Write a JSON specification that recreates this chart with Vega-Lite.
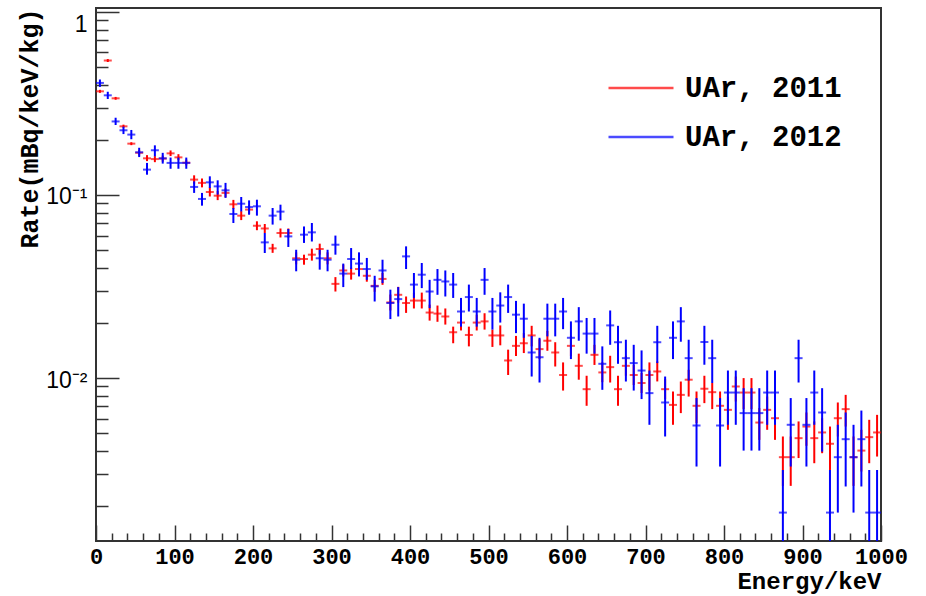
{
  "$schema": "https://vega.github.io/schema/vega-lite/v6.json",
  "width": 785,
  "height": 533,
  "autosize": "none",
  "padding": {"left": 96, "top": 8, "right": 45, "bottom": 55},
  "background": "white",
  "config": {
    "view": {"stroke": "#333333", "strokeWidth": 2},
    "axis": {"domain": false, "grid": false, "tickColor": "#333333", "tickWidth": 1.5, "labelColor": "black", "titleColor": "black", "labelFlush": false, "labelOverlap": false, "labelBound": false}
  },
  "data": {"values": [
    {"energy":5,"series":"UAr, 2011","rate":0.368,"lo":0.361,"hi":0.375},
    {"energy":15,"series":"UAr, 2011","rate":0.542,"lo":0.532,"hi":0.552},
    {"energy":25,"series":"UAr, 2011","rate":0.337,"lo":0.331,"hi":0.343},
    {"energy":35,"series":"UAr, 2011","rate":0.237,"lo":0.233,"hi":0.242},
    {"energy":45,"series":"UAr, 2011","rate":0.1906,"lo":0.187,"hi":0.194},
    {"energy":55,"series":"UAr, 2011","rate":0.170,"lo":0.164,"hi":0.176},
    {"energy":65,"series":"UAr, 2011","rate":0.1585,"lo":0.153,"hi":0.165},
    {"energy":75,"series":"UAr, 2011","rate":0.157,"lo":0.151,"hi":0.163},
    {"energy":85,"series":"UAr, 2011","rate":0.158,"lo":0.152,"hi":0.164},
    {"energy":95,"series":"UAr, 2011","rate":0.1687,"lo":0.163,"hi":0.175},
    {"energy":105,"series":"UAr, 2011","rate":0.1604,"lo":0.155,"hi":0.167},
    {"energy":115,"series":"UAr, 2011","rate":0.150,"lo":0.145,"hi":0.156},
    {"energy":125,"series":"UAr, 2011","rate":0.1213,"lo":0.115,"hi":0.128},
    {"energy":135,"series":"UAr, 2011","rate":0.1164,"lo":0.110,"hi":0.123},
    {"energy":145,"series":"UAr, 2011","rate":0.1038,"lo":0.0981,"hi":0.110},
    {"energy":155,"series":"UAr, 2011","rate":0.0991,"lo":0.0937,"hi":0.105},
    {"energy":165,"series":"UAr, 2011","rate":0.1026,"lo":0.097,"hi":0.1086},
    {"energy":175,"series":"UAr, 2011","rate":0.0889,"lo":0.084,"hi":0.094},
    {"energy":185,"series":"UAr, 2011","rate":0.0771,"lo":0.0729,"hi":0.0816},
    {"energy":195,"series":"UAr, 2011","rate":0.0832,"lo":0.0786,"hi":0.088},
    {"energy":205,"series":"UAr, 2011","rate":0.0679,"lo":0.0642,"hi":0.0718},
    {"energy":215,"series":"UAr, 2011","rate":0.0656,"lo":0.062,"hi":0.0694},
    {"energy":225,"series":"UAr, 2011","rate":0.0511,"lo":0.0483,"hi":0.0541},
    {"energy":235,"series":"UAr, 2011","rate":0.062,"lo":0.0586,"hi":0.0656},
    {"energy":245,"series":"UAr, 2011","rate":0.062,"lo":0.0586,"hi":0.0656},
    {"energy":255,"series":"UAr, 2011","rate":0.0451,"lo":0.0418,"hi":0.0486},
    {"energy":265,"series":"UAr, 2011","rate":0.0447,"lo":0.0416,"hi":0.0472},
    {"energy":275,"series":"UAr, 2011","rate":0.0472,"lo":0.0438,"hi":0.0509},
    {"energy":285,"series":"UAr, 2011","rate":0.0507,"lo":0.0472,"hi":0.0542},
    {"energy":295,"series":"UAr, 2011","rate":0.0451,"lo":0.0418,"hi":0.0486},
    {"energy":305,"series":"UAr, 2011","rate":0.0327,"lo":0.0297,"hi":0.0356},
    {"energy":315,"series":"UAr, 2011","rate":0.0387,"lo":0.0359,"hi":0.0417},
    {"energy":325,"series":"UAr, 2011","rate":0.0372,"lo":0.0345,"hi":0.0401},
    {"energy":335,"series":"UAr, 2011","rate":0.0394,"lo":0.0365,"hi":0.0425},
    {"energy":345,"series":"UAr, 2011","rate":0.0362,"lo":0.0336,"hi":0.039},
    {"energy":355,"series":"UAr, 2011","rate":0.0319,"lo":0.0296,"hi":0.0344},
    {"energy":365,"series":"UAr, 2011","rate":0.0348,"lo":0.0323,"hi":0.0375},
    {"energy":375,"series":"UAr, 2011","rate":0.0259,"lo":0.0234,"hi":0.0286},
    {"energy":385,"series":"UAr, 2011","rate":0.0285,"lo":0.0258,"hi":0.0315},
    {"energy":395,"series":"UAr, 2011","rate":0.0257,"lo":0.0227,"hi":0.0279},
    {"energy":405,"series":"UAr, 2011","rate":0.0265,"lo":0.024,"hi":0.0293},
    {"energy":415,"series":"UAr, 2011","rate":0.0265,"lo":0.024,"hi":0.0293},
    {"energy":425,"series":"UAr, 2011","rate":0.0228,"lo":0.0206,"hi":0.0252},
    {"energy":435,"series":"UAr, 2011","rate":0.0225,"lo":0.0203,"hi":0.0249},
    {"energy":445,"series":"UAr, 2011","rate":0.0217,"lo":0.0196,"hi":0.024},
    {"energy":455,"series":"UAr, 2011","rate":0.0178,"lo":0.0155,"hi":0.0191},
    {"energy":465,"series":"UAr, 2011","rate":0.0201,"lo":0.0182,"hi":0.0222},
    {"energy":475,"series":"UAr, 2011","rate":0.0172,"lo":0.0149,"hi":0.0191},
    {"energy":485,"series":"UAr, 2011","rate":0.0201,"lo":0.0182,"hi":0.0222},
    {"energy":495,"series":"UAr, 2011","rate":0.0204,"lo":0.0184,"hi":0.0226},
    {"energy":505,"series":"UAr, 2011","rate":0.0171,"lo":0.0148,"hi":0.0184},
    {"energy":515,"series":"UAr, 2011","rate":0.0171,"lo":0.0151,"hi":0.0194},
    {"energy":525,"series":"UAr, 2011","rate":0.01248,"lo":0.0104,"hi":0.0143},
    {"energy":535,"series":"UAr, 2011","rate":0.015,"lo":0.0132,"hi":0.017},
    {"energy":545,"series":"UAr, 2011","rate":0.0155,"lo":0.0137,"hi":0.0176},
    {"energy":555,"series":"UAr, 2011","rate":0.0171,"lo":0.0149,"hi":0.0193},
    {"energy":565,"series":"UAr, 2011","rate":0.0144,"lo":0.0127,"hi":0.0163},
    {"energy":575,"series":"UAr, 2011","rate":0.016,"lo":0.0141,"hi":0.0181},
    {"energy":585,"series":"UAr, 2011","rate":0.0138,"lo":0.01157,"hi":0.0157},
    {"energy":595,"series":"UAr, 2011","rate":0.0104,"lo":0.00855,"hi":0.01218},
    {"energy":605,"series":"UAr, 2011","rate":0.015,"lo":0.0132,"hi":0.017},
    {"energy":615,"series":"UAr, 2011","rate":0.01167,"lo":0.0098,"hi":0.0136},
    {"energy":625,"series":"UAr, 2011","rate":0.0087,"lo":0.00706,"hi":0.0103},
    {"energy":635,"series":"UAr, 2011","rate":0.0134,"lo":0.0118,"hi":0.0152},
    {"energy":645,"series":"UAr, 2011","rate":0.01074,"lo":0.0095,"hi":0.0122},
    {"energy":655,"series":"UAr, 2011","rate":0.01148,"lo":0.00946,"hi":0.01324},
    {"energy":665,"series":"UAr, 2011","rate":0.0087,"lo":0.00706,"hi":0.0103},
    {"energy":675,"series":"UAr, 2011","rate":0.01167,"lo":0.0103,"hi":0.01323},
    {"energy":685,"series":"UAr, 2011","rate":0.0104,"lo":0.00917,"hi":0.0118},
    {"energy":695,"series":"UAr, 2011","rate":0.0094,"lo":0.00829,"hi":0.01066},
    {"energy":705,"series":"UAr, 2011","rate":0.0104,"lo":0.00855,"hi":0.01218},
    {"energy":715,"series":"UAr, 2011","rate":0.01087,"lo":0.00959,"hi":0.01233},
    {"energy":725,"series":"UAr, 2011","rate":0.0087,"lo":0.00767,"hi":0.00987},
    {"energy":735,"series":"UAr, 2011","rate":0.00714,"lo":0.00556,"hi":0.00845},
    {"energy":745,"series":"UAr, 2011","rate":0.0081,"lo":0.00644,"hi":0.00958},
    {"energy":755,"series":"UAr, 2011","rate":0.0098,"lo":0.00793,"hi":0.0111},
    {"energy":765,"series":"UAr, 2011","rate":0.00706,"lo":0.00568,"hi":0.00845},
    {"energy":775,"series":"UAr, 2011","rate":0.00875,"lo":0.0073,"hi":0.0103},
    {"energy":785,"series":"UAr, 2011","rate":0.00838,"lo":0.00677,"hi":0.0094},
    {"energy":795,"series":"UAr, 2011","rate":0.00706,"lo":0.00568,"hi":0.00845},
    {"energy":805,"series":"UAr, 2011","rate":0.00671,"lo":0.00522,"hi":0.00793},
    {"energy":815,"series":"UAr, 2011","rate":0.009,"lo":0.00745,"hi":0.0102},
    {"energy":825,"series":"UAr, 2011","rate":0.00834,"lo":0.00677,"hi":0.01},
    {"energy":835,"series":"UAr, 2011","rate":0.00834,"lo":0.00677,"hi":0.01},
    {"energy":845,"series":"UAr, 2011","rate":0.00572,"lo":0.0046,"hi":0.00686},
    {"energy":855,"series":"UAr, 2011","rate":0.00671,"lo":0.00522,"hi":0.00793},
    {"energy":865,"series":"UAr, 2011","rate":0.00604,"lo":0.0046,"hi":0.0073},
    {"energy":875,"series":"UAr, 2011","rate":0.0037,"lo":0.00258,"hi":0.0048},
    {"energy":885,"series":"UAr, 2011","rate":0.0037,"lo":0.00258,"hi":0.0048},
    {"energy":895,"series":"UAr, 2011","rate":0.0047,"lo":0.00366,"hi":0.0058},
    {"energy":905,"series":"UAr, 2011","rate":0.00544,"lo":0.00427,"hi":0.00649},
    {"energy":915,"series":"UAr, 2011","rate":0.0047,"lo":0.00343,"hi":0.0058},
    {"energy":925,"series":"UAr, 2011","rate":0.00505,"lo":0.00389,"hi":0.00604},
    {"energy":935,"series":"UAr, 2011","rate":0.00438,"lo":0.00315,"hi":0.00544},
    {"energy":945,"series":"UAr, 2011","rate":0.00604,"lo":0.0048,"hi":0.00736},
    {"energy":955,"series":"UAr, 2011","rate":0.00677,"lo":0.00544,"hi":0.0081},
    {"energy":965,"series":"UAr, 2011","rate":0.0037,"lo":0.00258,"hi":0.0048},
    {"energy":975,"series":"UAr, 2011","rate":0.00402,"lo":0.00309,"hi":0.00522},
    {"energy":985,"series":"UAr, 2011","rate":0.00476,"lo":0.00343,"hi":0.00592},
    {"energy":995,"series":"UAr, 2011","rate":0.00505,"lo":0.00373,"hi":0.0063},
    {"energy":5,"series":"UAr, 2012","rate":0.409,"lo":0.389,"hi":0.427},
    {"energy":15,"series":"UAr, 2012","rate":0.350,"lo":0.334,"hi":0.366},
    {"energy":25,"series":"UAr, 2012","rate":0.252,"lo":0.241,"hi":0.264},
    {"energy":35,"series":"UAr, 2012","rate":0.2255,"lo":0.215,"hi":0.236},
    {"energy":45,"series":"UAr, 2012","rate":0.2136,"lo":0.2015,"hi":0.2264},
    {"energy":55,"series":"UAr, 2012","rate":0.171,"lo":0.161,"hi":0.181},
    {"energy":65,"series":"UAr, 2012","rate":0.1375,"lo":0.129,"hi":0.1496},
    {"energy":75,"series":"UAr, 2012","rate":0.1754,"lo":0.1625,"hi":0.1866},
    {"energy":85,"series":"UAr, 2012","rate":0.1585,"lo":0.1483,"hi":0.1698},
    {"energy":95,"series":"UAr, 2012","rate":0.1496,"lo":0.139,"hi":0.160},
    {"energy":105,"series":"UAr, 2012","rate":0.1496,"lo":0.139,"hi":0.160},
    {"energy":115,"series":"UAr, 2012","rate":0.1496,"lo":0.139,"hi":0.160},
    {"energy":125,"series":"UAr, 2012","rate":0.1106,"lo":0.1026,"hi":0.1186},
    {"energy":135,"series":"UAr, 2012","rate":0.0951,"lo":0.0874,"hi":0.1026},
    {"energy":145,"series":"UAr, 2012","rate":0.1172,"lo":0.1092,"hi":0.1264},
    {"energy":155,"series":"UAr, 2012","rate":0.1114,"lo":0.1005,"hi":0.1202},
    {"energy":165,"series":"UAr, 2012","rate":0.106,"lo":0.0964,"hi":0.1164},
    {"energy":175,"series":"UAr, 2012","rate":0.0787,"lo":0.0703,"hi":0.0849},
    {"energy":185,"series":"UAr, 2012","rate":0.0896,"lo":0.0813,"hi":0.0975},
    {"energy":195,"series":"UAr, 2012","rate":0.0859,"lo":0.078,"hi":0.0934},
    {"energy":205,"series":"UAr, 2012","rate":0.0867,"lo":0.0771,"hi":0.0942},
    {"energy":215,"series":"UAr, 2012","rate":0.0551,"lo":0.0482,"hi":0.062},
    {"energy":225,"series":"UAr, 2012","rate":0.0771,"lo":0.0689,"hi":0.0849},
    {"energy":235,"series":"UAr, 2012","rate":0.0811,"lo":0.0727,"hi":0.0885},
    {"energy":245,"series":"UAr, 2012","rate":0.0594,"lo":0.052,"hi":0.0652},
    {"energy":255,"series":"UAr, 2012","rate":0.0443,"lo":0.0383,"hi":0.0502},
    {"energy":265,"series":"UAr, 2012","rate":0.0607,"lo":0.0547,"hi":0.0673},
    {"energy":275,"series":"UAr, 2012","rate":0.0625,"lo":0.0557,"hi":0.0703},
    {"energy":285,"series":"UAr, 2012","rate":0.0451,"lo":0.0391,"hi":0.0502},
    {"energy":295,"series":"UAr, 2012","rate":0.0443,"lo":0.0383,"hi":0.0502},
    {"energy":305,"series":"UAr, 2012","rate":0.0535,"lo":0.0472,"hi":0.060},
    {"energy":315,"series":"UAr, 2012","rate":0.0372,"lo":0.0314,"hi":0.0422},
    {"energy":325,"series":"UAr, 2012","rate":0.0447,"lo":0.0394,"hi":0.0513},
    {"energy":335,"series":"UAr, 2012","rate":0.0422,"lo":0.0359,"hi":0.0486},
    {"energy":345,"series":"UAr, 2012","rate":0.0394,"lo":0.0344,"hi":0.0453},
    {"energy":355,"series":"UAr, 2012","rate":0.0317,"lo":0.0262,"hi":0.0362},
    {"energy":365,"series":"UAr, 2012","rate":0.0387,"lo":0.033,"hi":0.0443},
    {"energy":375,"series":"UAr, 2012","rate":0.0257,"lo":0.021,"hi":0.0304},
    {"energy":385,"series":"UAr, 2012","rate":0.027,"lo":0.0217,"hi":0.0314},
    {"energy":395,"series":"UAr, 2012","rate":0.0462,"lo":0.0394,"hi":0.0524},
    {"energy":405,"series":"UAr, 2012","rate":0.0324,"lo":0.0274,"hi":0.0375},
    {"energy":415,"series":"UAr, 2012","rate":0.0367,"lo":0.031,"hi":0.0425},
    {"energy":425,"series":"UAr, 2012","rate":0.0297,"lo":0.0241,"hi":0.0344},
    {"energy":435,"series":"UAr, 2012","rate":0.0344,"lo":0.0285,"hi":0.0394},
    {"energy":445,"series":"UAr, 2012","rate":0.0337,"lo":0.0279,"hi":0.0387},
    {"energy":455,"series":"UAr, 2012","rate":0.0324,"lo":0.0274,"hi":0.0375},
    {"energy":465,"series":"UAr, 2012","rate":0.0231,"lo":0.0191,"hi":0.0274},
    {"energy":475,"series":"UAr, 2012","rate":0.0277,"lo":0.0231,"hi":0.0324},
    {"energy":485,"series":"UAr, 2012","rate":0.0231,"lo":0.0191,"hi":0.0274},
    {"energy":495,"series":"UAr, 2012","rate":0.0344,"lo":0.0285,"hi":0.0399},
    {"energy":505,"series":"UAr, 2012","rate":0.0231,"lo":0.0184,"hi":0.0274},
    {"energy":515,"series":"UAr, 2012","rate":0.0249,"lo":0.0201,"hi":0.0294},
    {"energy":525,"series":"UAr, 2012","rate":0.0277,"lo":0.0227,"hi":0.0324},
    {"energy":535,"series":"UAr, 2012","rate":0.0222,"lo":0.0176,"hi":0.0264},
    {"energy":545,"series":"UAr, 2012","rate":0.0211,"lo":0.0166,"hi":0.0255},
    {"energy":555,"series":"UAr, 2012","rate":0.0138,"lo":0.0102,"hi":0.017},
    {"energy":565,"series":"UAr, 2012","rate":0.013,"lo":0.00946,"hi":0.0166},
    {"energy":575,"series":"UAr, 2012","rate":0.0211,"lo":0.0169,"hi":0.0255},
    {"energy":585,"series":"UAr, 2012","rate":0.0211,"lo":0.0169,"hi":0.0255},
    {"energy":595,"series":"UAr, 2012","rate":0.0231,"lo":0.0185,"hi":0.0274},
    {"energy":605,"series":"UAr, 2012","rate":0.0166,"lo":0.0127,"hi":0.0204},
    {"energy":615,"series":"UAr, 2012","rate":0.0204,"lo":0.016,"hi":0.0244},
    {"energy":625,"series":"UAr, 2012","rate":0.0175,"lo":0.0136,"hi":0.0213},
    {"energy":635,"series":"UAr, 2012","rate":0.0175,"lo":0.0136,"hi":0.0213},
    {"energy":645,"series":"UAr, 2012","rate":0.01197,"lo":0.00863,"hi":0.0149},
    {"energy":655,"series":"UAr, 2012","rate":0.0194,"lo":0.0152,"hi":0.0234},
    {"energy":665,"series":"UAr, 2012","rate":0.0157,"lo":0.01197,"hi":0.0193},
    {"energy":675,"series":"UAr, 2012","rate":0.01285,"lo":0.00958,"hi":0.0162},
    {"energy":685,"series":"UAr, 2012","rate":0.01208,"lo":0.00855,"hi":0.0152},
    {"energy":695,"series":"UAr, 2012","rate":0.011,"lo":0.00768,"hi":0.01416},
    {"energy":705,"series":"UAr, 2012","rate":0.00828,"lo":0.00556,"hi":0.011},
    {"energy":715,"series":"UAr, 2012","rate":0.0157,"lo":0.01208,"hi":0.0193},
    {"energy":725,"series":"UAr, 2012","rate":0.00736,"lo":0.0048,"hi":0.0102},
    {"energy":735,"series":"UAr, 2012","rate":0.0166,"lo":0.0127,"hi":0.0204},
    {"energy":745,"series":"UAr, 2012","rate":0.0204,"lo":0.0158,"hi":0.0244},
    {"energy":755,"series":"UAr, 2012","rate":0.01285,"lo":0.0097,"hi":0.0162},
    {"energy":765,"series":"UAr, 2012","rate":0.00551,"lo":0.00329,"hi":0.00778},
    {"energy":775,"series":"UAr, 2012","rate":0.01574,"lo":0.01183,"hi":0.0193},
    {"energy":785,"series":"UAr, 2012","rate":0.01285,"lo":0.0094,"hi":0.0162},
    {"energy":795,"series":"UAr, 2012","rate":0.00551,"lo":0.00329,"hi":0.00778},
    {"energy":805,"series":"UAr, 2012","rate":0.00834,"lo":0.00556,"hi":0.011},
    {"energy":815,"series":"UAr, 2012","rate":0.00834,"lo":0.00556,"hi":0.011},
    {"energy":825,"series":"UAr, 2012","rate":0.00644,"lo":0.00402,"hi":0.00881},
    {"energy":835,"series":"UAr, 2012","rate":0.00644,"lo":0.00402,"hi":0.00881},
    {"energy":845,"series":"UAr, 2012","rate":0.00644,"lo":0.00402,"hi":0.00881},
    {"energy":855,"series":"UAr, 2012","rate":0.00834,"lo":0.00556,"hi":0.011},
    {"energy":865,"series":"UAr, 2012","rate":0.00834,"lo":0.00556,"hi":0.011},
    {"energy":875,"series":"UAr, 2012","rate":0.001844,"lo":0.0001,"hi":0.00315},
    {"energy":885,"series":"UAr, 2012","rate":0.00556,"lo":0.00329,"hi":0.00778},
    {"energy":895,"series":"UAr, 2012","rate":0.01285,"lo":0.00946,"hi":0.0162},
    {"energy":905,"series":"UAr, 2012","rate":0.00556,"lo":0.00329,"hi":0.00778},
    {"energy":915,"series":"UAr, 2012","rate":0.00834,"lo":0.00556,"hi":0.011},
    {"energy":925,"series":"UAr, 2012","rate":0.00649,"lo":0.00397,"hi":0.00881},
    {"energy":935,"series":"UAr, 2012","rate":0.001844,"lo":0.0001,"hi":0.00315},
    {"energy":945,"series":"UAr, 2012","rate":0.0037,"lo":0.001844,"hi":0.00556},
    {"energy":955,"series":"UAr, 2012","rate":0.00464,"lo":0.00256,"hi":0.00649},
    {"energy":965,"series":"UAr, 2012","rate":0.0037,"lo":0.001844,"hi":0.00556},
    {"energy":975,"series":"UAr, 2012","rate":0.00464,"lo":0.00256,"hi":0.00665},
    {"energy":985,"series":"UAr, 2012","rate":0.001844,"lo":0.0001,"hi":0.00315},
    {"energy":995,"series":"UAr, 2012","rate":0.001844,"lo":0.0001,"hi":0.00315}
  ]},
  "resolve": {"axis": {"x": "independent", "y": "independent"}},
  "layer": [
    {
      "transform": [{"filter": "datum.series == 'UAr, 2011'"}],
      "mark": {"type": "rule", "strokeWidth": 2, "clip": true},
      "encoding": {
        "x": {"field": "energy", "type": "quantitative",
          "scale": {"domain": [0, 1000], "nice": false, "zero": false},
          "axis": {"orient": "bottom", "values": [0,100,200,300,400,500,600,700,800,900,1000], "format": "d", "tickSize": -16, "labelPadding": 21,
            "labelFont": "Liberation Mono", "labelFontWeight": "bold", "labelFontSize": 22,
            "title": "Energy/keV", "titleFont": "Liberation Mono", "titleFontWeight": "bold", "titleFontSize": 24,
            "titleAnchor": "end", "titlePadding": 2}},
        "y": {"field": "lo", "type": "quantitative",
          "scale": {"type": "log", "domain": [0.00129, 1.049], "nice": false},
          "axis": {"orient": "left", "values": [0.01, 0.1, 1], "tickSize": -23, "labelPadding": 32,
            "labelExpr": "datum.value >= 0.5 ? '1' : (datum.value >= 0.05 ? '10⁻¹' : '10⁻²')",
            "labelBaseline": {"condition": {"test": "datum.value >= 0.5", "value": "top"}, "value": "middle"},
            "labelOffset": 2,
            "labelFont": "Liberation Sans", "labelFontSize": 23,
            "title": "Rate(mBq/keV/kg)", "titleFont": "Liberation Mono", "titleFontWeight": "bold", "titleFontSize": 25,
            "titleAnchor": "end", "titlePadding": 3}},
        "y2": {"field": "hi"},
        "color": {"field": "series", "type": "nominal",
          "scale": {"domain": ["UAr, 2011", "UAr, 2012"], "range": ["#ff0000", "#0000ff"]},
          "legend": {"orient": "none", "legendX": 511, "legendY": 46, "title": null, "symbolType": "stroke",
            "symbolSize": 4225, "symbolStrokeWidth": 2.5, "labelFont": "Liberation Mono", "labelFontWeight": "bold",
            "labelFontSize": 29, "labelColor": "black", "rowPadding": -8, "labelOffset": 10}}
      }
    },
    {
      "transform": [{"filter": "datum.series == 'UAr, 2011'"}],
      "mark": {"type": "tick", "orient": "horizontal", "size": 8, "thickness": 2, "clip": true},
      "encoding": {
        "x": {"field": "energy", "type": "quantitative",
          "axis": {"orient": "bottom", "values": [20,40,60,80,120,140,160,180,220,240,260,280,320,340,360,380,420,440,460,480,520,540,560,580,620,640,660,680,720,740,760,780,820,840,860,880,920,940,960,980],
            "tickSize": -8, "labels": false, "title": null}},
        "y": {"field": "rate", "type": "quantitative",
          "axis": {"orient": "left", "values": [0.002,0.003,0.004,0.005,0.006,0.007,0.008,0.009,0.02,0.03,0.04,0.05,0.06,0.07,0.08,0.09,0.2,0.3,0.4,0.5,0.6,0.7,0.8,0.9],
            "tickSize": -12, "labels": false, "title": null}},
        "color": {"field": "series", "type": "nominal"}
      }
    },
    {
      "transform": [{"filter": "datum.series == 'UAr, 2012'"}],
      "mark": {"type": "rule", "strokeWidth": 2, "clip": true},
      "encoding": {
        "x": {"field": "energy", "type": "quantitative", "axis": null},
        "y": {"field": "lo", "type": "quantitative", "axis": null},
        "y2": {"field": "hi"},
        "color": {"field": "series", "type": "nominal"}
      }
    },
    {
      "transform": [{"filter": "datum.series == 'UAr, 2012'"}],
      "mark": {"type": "tick", "orient": "horizontal", "size": 8, "thickness": 2, "clip": true},
      "encoding": {
        "x": {"field": "energy", "type": "quantitative", "axis": null},
        "y": {"field": "rate", "type": "quantitative", "axis": null},
        "color": {"field": "series", "type": "nominal"}
      }
    }
  ]
}
